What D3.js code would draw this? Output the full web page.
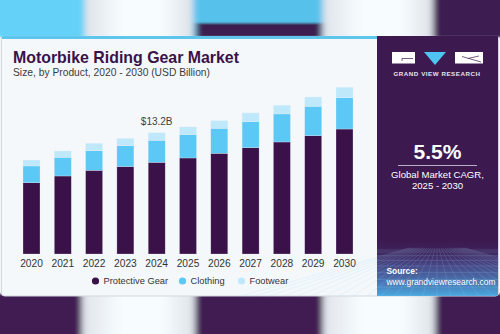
<!DOCTYPE html>
<html>
<head>
<meta charset="utf-8">
<script src="https://cdn.jsdelivr.net/npm/d3@7"></script>
<style>
  html, body { margin: 0; padding: 0; background: #f2f6f9; }
  svg { display: block; font-family: "Liberation Sans", Arial, sans-serif; }
</style>
</head>
<body>
<svg id="chart" width="500" height="334"></svg>
<script>
// market size by product, USD billion
var years = ["2020", "2021", "2022", "2023", "2024", "2025", "2026", "2027", "2028", "2029", "2030"];
var protectiveGear = [7.76, 8.49, 9.11, 9.52, 9.98, 10.45, 10.96, 11.57, 12.19, 12.87, 13.60];
var clothing = [1.82, 2.03, 2.13, 2.26, 2.39, 2.54, 2.72, 2.83, 3.05, 3.20, 3.41];
var footwear = [0.65, 0.69, 0.80, 0.80, 0.83, 0.84, 0.83, 0.95, 0.95, 1.01, 1.13];
var seriesNames = ["Protective Gear", "Clothing", "Footwear"];
var labelYear = "2024";
var cagr = "5.5%";

var colors = ["#3a1249", "#5bc8f5", "#bfe9fb"];
var purple = "#3c1a4f";

var svg = d3.select("#chart");
var defs = svg.append("defs");

// soft blur for the decorative strips above and below the card
defs.append("filter").attr("id", "soft")
    .attr("x", "-10%").attr("width", "120%")
    .append("feGaussianBlur").attr("stdDeviation", "3 1");

var shine = defs.append("linearGradient").attr("id", "shine");
shine.append("stop").attr("offset", "0%").attr("stop-color", "#dfe3ea");
shine.append("stop").attr("offset", "35%").attr("stop-color", "#f7fdff");
shine.append("stop").attr("offset", "70%").attr("stop-color", "#f7fdff");
shine.append("stop").attr("offset", "100%").attr("stop-color", "#dde2e8");

var sea = defs.append("linearGradient").attr("id", "sea")
    .attr("x1", 0).attr("y1", 0).attr("x2", 0).attr("y2", 1);
sea.append("stop").attr("offset", "0%").attr("stop-color", purple).attr("stop-opacity", 0);
sea.append("stop").attr("offset", "45%").attr("stop-color", "#4a4e8f").attr("stop-opacity", 0.8);
sea.append("stop").attr("offset", "100%").attr("stop-color", "#4aa6de");

// top strip
var topStrip = svg.append("g").attr("filter", "url(#soft)");
topStrip.append("rect").attr("x", -10).attr("y", -5).attr("width", 95).attr("height", 42).attr("fill", "#63d1f8");
topStrip.append("rect").attr("x", 85).attr("y", -5).attr("width", 108).attr("height", 42).attr("fill", "url(#shine)");
topStrip.append("rect").attr("x", 193).attr("y", -5).attr("width", 130).attr("height", 42).attr("fill", "#56c2ec");
topStrip.append("rect").attr("x", 196).attr("y", 23).attr("width", 126).attr("height", 14).attr("fill", purple);
topStrip.append("rect").attr("x", 323).attr("y", -5).attr("width", 110).attr("height", 42).attr("fill", "url(#shine)");
topStrip.append("rect").attr("x", 433).attr("y", -5).attr("width", 80).attr("height", 42).attr("fill", "#3e1b51");

// bottom strip
var bottomStrip = svg.append("g").attr("filter", "url(#soft)");
bottomStrip.append("rect").attr("x", -10).attr("y", 294).attr("width", 92).attr("height", 50).attr("fill", "#401b53");
bottomStrip.append("rect").attr("x", 82).attr("y", 294).attr("width", 113).attr("height", 50).attr("fill", "url(#shine)");
bottomStrip.append("rect").attr("x", 195).attr("y", 294).attr("width", 128).attr("height", 50).attr("fill", "#401b53");
bottomStrip.append("rect").attr("x", 323).attr("y", 294).attr("width", 112).attr("height", 50).attr("fill", "url(#shine)");
bottomStrip.append("rect").attr("x", 435).attr("y", 294).attr("width", 80).attr("height", 50).attr("fill", "#401b53");

// card
svg.append("rect")
    .attr("x", 1.5).attr("y", 36.5).attr("width", 497).attr("height", 259.5).attr("rx", 3)
    .attr("fill", "#f4f8fb").attr("stroke", "#d3d8de");
svg.append("rect")
    .attr("x", 2).attr("y", 36).attr("width", 375).attr("height", 3).attr("fill", "#5ec6ec");

// side panel
var panel = svg.append("g");
panel.append("rect").attr("x", 377).attr("y", 36).attr("width", 121).attr("height", 260).attr("fill", purple);
panel.append("rect").attr("x", 377).attr("y", 238).attr("width", 121).attr("height", 58).attr("fill", "url(#sea)");

// perspective mesh at the foot of the panel
var mesh = panel.append("g").attr("stroke", "#9fd3f5").attr("stroke-width", 0.5).attr("opacity", 0.35);
d3.range(0, 9).forEach(function(i) {
    var yy = 250 + Math.pow(i, 1.5) * 2;
    mesh.append("line").attr("x1", 377).attr("x2", 498).attr("y1", yy).attr("y2", yy);
});
d3.range(-14, 15).forEach(function(i) {
    mesh.append("line").attr("x1", 437 + i * 2).attr("y1", 248).attr("x2", 437 + i * 14).attr("y2", 296);
});

// logo
var logo = panel.append("g");
logo.append("rect").attr("x", 392).attr("y", 52).attr("width", 23).attr("height", 11.5).attr("fill", "#fff");
logo.append("path").attr("d", "M402,58.5H413M402,58.5V61").attr("stroke", purple).attr("stroke-width", 0.7).attr("fill", "none");
logo.append("path").attr("d", "M424,52H446L435,65Z").attr("fill", "#4fc4f3");
logo.append("rect").attr("x", 455).attr("y", 52).attr("width", 28).attr("height", 11.5).attr("fill", "#fff");
logo.append("path").attr("d", "M462,56.5L481,62M468,58.5L479,56").attr("stroke", purple).attr("stroke-width", 0.7).attr("fill", "none");
panel.append("text")
    .attr("x", 437).attr("y", 75.5).attr("text-anchor", "middle")
    .attr("fill", "#e6e3ec").attr("font-size", 6.2).attr("font-weight", "bold")
    .attr("letter-spacing", 0.55)
    .text("GRAND VIEW RESEARCH");

// CAGR call-out
panel.append("text")
    .attr("x", 437.5).attr("y", 159).attr("text-anchor", "middle")
    .attr("fill", "#fff").attr("font-size", 21).attr("font-weight", "bold")
    .text(cagr);
panel.append("line")
    .attr("x1", 398).attr("x2", 477).attr("y1", 165.5).attr("y2", 165.5)
    .attr("stroke", "#d9d3e0").attr("stroke-width", 0.8);
panel.append("text")
    .attr("x", 437.5).attr("y", 177.5).attr("text-anchor", "middle")
    .attr("fill", "#fff").attr("font-size", 9.6)
    .text("Global Market CAGR,");
panel.append("text")
    .attr("x", 437.5).attr("y", 189).attr("text-anchor", "middle")
    .attr("fill", "#fff").attr("font-size", 9.6)
    .text(years[5] + " - " + years[10]);

// source
panel.append("text")
    .attr("x", 386.5).attr("y", 274).attr("fill", "#fff")
    .attr("font-size", 8.4).attr("font-weight", "bold")
    .text("Source:");
panel.append("text")
    .attr("x", 386.5).attr("y", 285).attr("fill", "#fff")
    .attr("font-size", 8.4)
    .text("www.grandviewresearch.com");

// titles
svg.append("text")
    .attr("x", 13).attr("y", 62.5)
    .attr("fill", "#3a1249").attr("font-size", 17).attr("font-weight", "900")
    .attr("textLength", 226).attr("lengthAdjust", "spacingAndGlyphs")
    .text("Motorbike Riding Gear Market");
svg.append("text")
    .attr("x", 13).attr("y", 75.5)
    .attr("fill", "#3b3b3b").attr("font-size", 10.5)
    .attr("textLength", 197).attr("lengthAdjust", "spacingAndGlyphs")
    .text("Size, by Product, 2020 - 2030 (USD Billion)");

// stacked bars
var rows = years.map(function(yr, i) {
    return {year: yr, "Protective Gear": protectiveGear[i], "Clothing": clothing[i], "Footwear": footwear[i]};
});
var stacked = d3.stack().keys(seriesNames)(rows);

var x = d3.scaleBand()
    .domain(years)
    .range([15.85, 360.15])
    .paddingInner(0.457)
    .paddingOuter(0.2285);

var y = d3.scaleLinear()
    .domain([0, 20])
    .range([254, 70.2]);

svg.append("g").selectAll("g")
    .data(stacked)
    .join("g")
    .attr("fill", function(d, i) { return colors[i]; })
    .selectAll("rect")
    .data(function(d) { return d; })
    .join("rect")
    .attr("x", function(d) { return x(d.data.year); })
    .attr("y", function(d) { return y(d[1]); })
    .attr("width", x.bandwidth())
    .attr("height", function(d) { return y(d[0]) - y(d[1]); })
    .attr("stroke", "#e9eef7")
    .attr("stroke-opacity", 0.55)
    .attr("stroke-width", 0.5);

// value label over the base-year bar
var li = years.indexOf(labelYear);
var labelTotal = protectiveGear[li] + clothing[li] + footwear[li];
svg.append("text")
    .attr("x", x(labelYear) + x.bandwidth() / 2)
    .attr("y", y(labelTotal) - 7.5)
    .attr("text-anchor", "middle")
    .attr("fill", "#404040").attr("font-size", 10)
    .text("$" + labelTotal.toFixed(1) + "B");

// year axis
var xAxis = svg.append("g")
    .attr("transform", "translate(0,254)")
    .call(d3.axisBottom(x).tickSize(0).tickPadding(6));
xAxis.select(".domain").remove();
xAxis.selectAll("text")
    .attr("fill", "#333").attr("font-size", 10.2)
    .attr("font-family", "'Liberation Sans', Arial, sans-serif")
    .attr("dy", "0.71em");

// legend
var legendX = [95.5, 182.5, 241.5];
var legend = svg.append("g").selectAll("g")
    .data(seriesNames)
    .join("g")
    .attr("transform", function(d, i) { return "translate(" + legendX[i] + ",281)"; });
legend.append("circle")
    .attr("r", 3.6)
    .attr("fill", function(d, i) { return colors[i]; });
legend.append("text")
    .attr("x", 8).attr("dy", "0.35em")
    .attr("fill", "#333").attr("font-size", 9.3)
    .text(function(d) { return d; });
</script>
</body>
</html>
